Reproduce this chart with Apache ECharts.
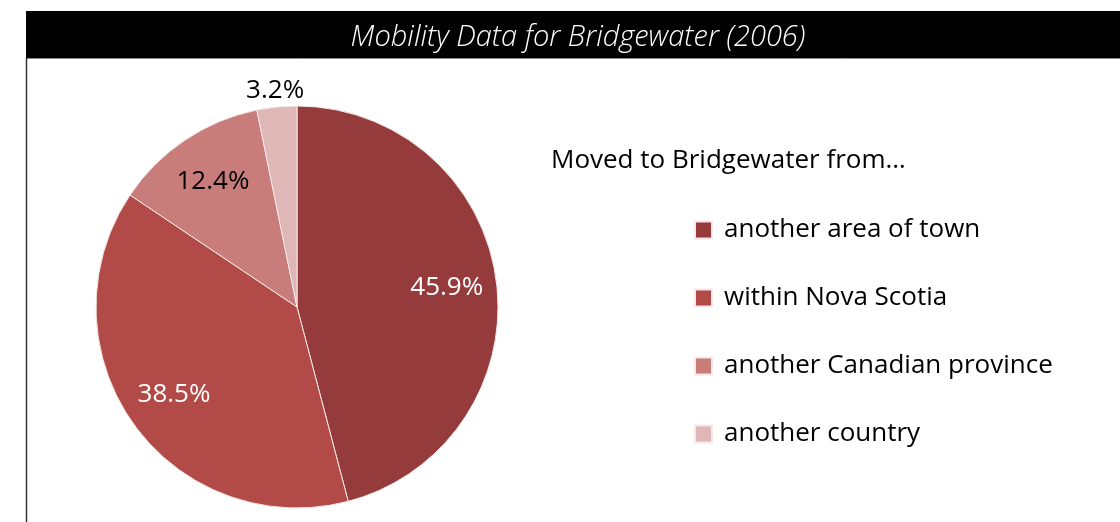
<!DOCTYPE html>
<html>
<head>
<meta charset="utf-8">
<script src="https://cdn.jsdelivr.net/npm/echarts@6/dist/echarts.min.js"></script>
<style>
  html, body { margin: 0; padding: 0; background: #fff; }
  #chart { width: 1120px; height: 522px; }
</style>
</head>
<body>
<div id="chart"></div>
<script>
// mobility data, Bridgewater 2006 (percent)
var categories = ['another area of town', 'within Nova Scotia', 'another Canadian province', 'another country'];
var shares = [45.9, 38.5, 12.4, 3.2];
var sliceColors = ['#953b3b', '#b24b48', '#c97d7b', '#dfb7b6'];
var labelColors = ['#ffffff', '#ffffff', '#000000', '#000000'];

var chart = echarts.init(document.getElementById('chart'));
var font = '"Open Sans", "Noto Sans", sans-serif';

var pieData = categories.map(function (name, i) {
  return { name: name, value: shares[i], itemStyle: { color: sliceColors[i] } };
});

// label-only rings so the percentages sit where the original has them
var innerLabels = categories.map(function (name, i) {
  return {
    name: name, value: shares[i],
    label: { show: i < 3, color: labelColors[i] }
  };
});
var outerLabels = categories.map(function (name, i) {
  return {
    name: name, value: shares[i],
    label: { show: i === 3, color: labelColors[i] }
  };
});

var labelRing = {
  type: 'pie',
  center: [297, 307],
  startAngle: 90,
  silent: true,
  animation: false,
  itemStyle: { color: 'rgba(0,0,0,0)', borderWidth: 0 },
  emphasis: { disabled: true },
  labelLine: { show: false },
  label: {
    position: 'inside',
    fontFamily: font,
    fontSize: 26,
    formatter: function (p) { return p.value.toFixed(1) + '%'; }
  }
};

chart.setOption({
  backgroundColor: '#ffffff',
  animation: false,
  graphic: [
    { type: 'rect', shape: { x: 26, y: 11, width: 1094, height: 47 }, style: { fill: '#000' }, z: 0 },
    { type: 'line', shape: { x1: 26, y1: 58.5, x2: 1120, y2: 58.5 }, style: { stroke: '#8c8c8c', lineWidth: 1 } },
    { type: 'line', shape: { x1: 26.5, y1: 58, x2: 26.5, y2: 522 }, style: { stroke: '#333', lineWidth: 1.5 } }
  ],
  title: [
    {
      text: 'Mobility Data for Bridgewater (2006)',
      left: 573, top: 18, textAlign: 'center',
      textStyle: { color: '#fff', fontFamily: font, fontStyle: 'italic', fontWeight: 300, fontSize: 29 }
    },
    {
      text: 'Moved to Bridgewater from…',
      left: 546, top: 143,
      textStyle: { color: '#000', fontFamily: font, fontWeight: 'normal', fontSize: 26 }
    }
  ],
  legend: {
    orient: 'vertical',
    left: 694, top: 217,
    padding: 0,
    itemWidth: 17, itemHeight: 17,
    itemGap: 42,
    icon: 'rect',
    data: categories,
    textStyle: { color: '#000', fontFamily: font, fontSize: 26, lineHeight: 26, padding: [0, 0, 0, 7] }
  },
  series: [
    {
      type: 'pie',
      center: [297, 307],
      radius: [0, 201],
      startAngle: 90,
      data: pieData,
      label: { show: false },
      labelLine: { show: false },
      itemStyle: { borderColor: '#f4e8e8', borderWidth: 1 },
      emphasis: { scale: false }
    },
    Object.assign({}, labelRing, { radius: [95, 201], data: innerLabels }),
    Object.assign({}, labelRing, { radius: [201, 229], data: outerLabels })
  ]
});
</script>
</body>
</html>
